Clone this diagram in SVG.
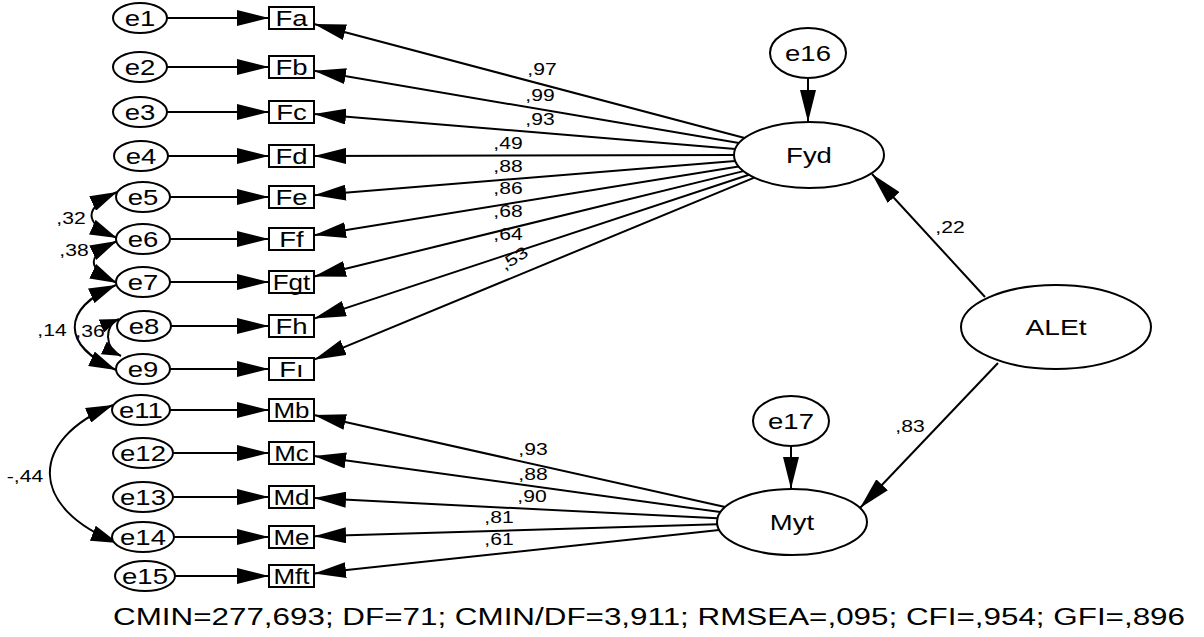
<svg xmlns="http://www.w3.org/2000/svg" width="1204" height="637" viewBox="0 0 1204 637">
<style>
.ln{stroke:#000;stroke-width:2;fill:none}
.nd{fill:#fff;stroke:#000;stroke-width:2}
text{font-family:"Liberation Sans",Arial,sans-serif;fill:#000}
.t{font-size:22px;text-anchor:middle}
.c{font-size:16.5px;text-anchor:middle}
.a{marker-end:url(#ah)}
.d{marker-start:url(#as);marker-end:url(#as)}
.s{marker-start:url(#ass);marker-end:url(#ass)}
</style>
<defs>
<marker id="ah" markerUnits="userSpaceOnUse" viewBox="0 0 32 16" markerWidth="32" markerHeight="16" refX="32" refY="8" orient="auto"><path d="M0,0 L32,8 L0,16 z" fill="#000"/></marker>
<marker id="as" markerUnits="userSpaceOnUse" viewBox="0 0 27 16" markerWidth="27" markerHeight="16" refX="27" refY="8" orient="auto-start-reverse"><path d="M0,0 L27,8 L0,16 z" fill="#000"/></marker>
<marker id="ass" markerUnits="userSpaceOnUse" viewBox="0 0 19 14" markerWidth="19" markerHeight="14" refX="19" refY="7" orient="auto-start-reverse"><path d="M0,0 L19,7 L0,14 z" fill="#000"/></marker>
</defs>
<rect width="1204" height="637" fill="#fff"/>
<g id="connectors">
<line class="ln a" x1="167" y1="18" x2="269" y2="18"/>
<line class="ln a" x1="167" y1="67" x2="269" y2="67"/>
<line class="ln a" x1="167" y1="112" x2="269" y2="112"/>
<line class="ln a" x1="168" y1="156" x2="269" y2="156"/>
<line class="ln a" x1="170" y1="197" x2="269" y2="197"/>
<line class="ln a" x1="170" y1="239" x2="269" y2="239"/>
<line class="ln a" x1="170" y1="282" x2="269" y2="282"/>
<line class="ln a" x1="171" y1="326" x2="269" y2="326"/>
<line class="ln a" x1="170" y1="369" x2="269" y2="369"/>
<line class="ln a" x1="170" y1="410" x2="269" y2="410"/>
<line class="ln a" x1="173" y1="453" x2="269" y2="453"/>
<line class="ln a" x1="173" y1="497" x2="269" y2="497"/>
<line class="ln a" x1="174" y1="537" x2="269" y2="537"/>
<line class="ln a" x1="175" y1="576" x2="269" y2="576"/>
<line class="ln a" x1="744.7" y1="138" x2="314" y2="24"/>
<line class="ln a" x1="739" y1="143.1" x2="314" y2="70.8"/>
<line class="ln a" x1="735.3" y1="148.9" x2="314" y2="113.9"/>
<line class="ln a" x1="734" y1="155.1" x2="314" y2="156"/>
<line class="ln a" x1="735.2" y1="161" x2="314" y2="195.2"/>
<line class="ln a" x1="738.6" y1="166.4" x2="314" y2="235.3"/>
<line class="ln a" x1="743.5" y1="171.1" x2="314" y2="276.5"/>
<line class="ln a" x1="749" y1="174.8" x2="314" y2="318.6"/>
<line class="ln a" x1="754.3" y1="177.6" x2="314" y2="359.7"/>
<line class="ln a" x1="725.2" y1="507" x2="314" y2="415"/>
<line class="ln a" x1="720.4" y1="512.1" x2="314" y2="456.1"/>
<line class="ln a" x1="717.5" y1="518.3" x2="314" y2="498.1"/>
<line class="ln a" x1="717.2" y1="524.2" x2="314" y2="536.3"/>
<line class="ln a" x1="719.2" y1="529.9" x2="314" y2="573.6"/>
<line class="ln a" x1="808" y1="78" x2="808" y2="122"/>
<line class="ln a" x1="791" y1="446" x2="791" y2="489"/>
<line class="ln a" x1="985" y1="297" x2="872" y2="174"/>
<line class="ln a" x1="998" y1="363" x2="860" y2="508"/>
<path class="ln d" d="M117,192 C83,208 83,223 117,238"/>
<path class="ln d" d="M117,241 C86,256 86,268 117,283"/>
<path class="ln d" d="M116,285 C61,309 61,345 116,370"/>
<path class="ln s" d="M119,319 C104,325 104,348 121,356"/>
<path class="ln d" d="M113,405 C28,440 28,508 118,543"/>
<text class="c" transform="translate(542,75) scale(1.28,1)">,97</text>
<text class="c" transform="translate(540,101) scale(1.28,1)">,99</text>
<text class="c" transform="translate(540,125) scale(1.28,1)">,93</text>
<text class="c" transform="translate(508,149) scale(1.28,1)">,49</text>
<text class="c" transform="translate(508,172) scale(1.28,1)">,88</text>
<text class="c" transform="translate(508,194) scale(1.28,1)">,86</text>
<text class="c" transform="translate(508,217) scale(1.28,1)">,68</text>
<text class="c" transform="translate(508,240) scale(1.28,1)">,64</text>
<text class="c" transform="translate(517,263) rotate(-32) scale(1.28,1)">,53</text>
<text class="c" transform="translate(533,455) scale(1.28,1)">,93</text>
<text class="c" transform="translate(533,480) scale(1.28,1)">,88</text>
<text class="c" transform="translate(532,502) scale(1.28,1)">,90</text>
<text class="c" transform="translate(499,523) scale(1.28,1)">,81</text>
<text class="c" transform="translate(499,545) scale(1.28,1)">,61</text>
<text class="c" transform="translate(950,233) scale(1.28,1)">,22</text>
<text class="c" transform="translate(910,432) scale(1.28,1)">,83</text>
<text class="c" transform="translate(71,224) scale(1.28,1)">,32</text>
<text class="c" transform="translate(74,256) scale(1.28,1)">,38</text>
<text class="c" transform="translate(52,336) scale(1.28,1)">,14</text>
<text class="c" transform="translate(90,337) scale(1.28,1)">,36</text>
<text class="c" transform="translate(25,482) scale(1.28,1)">-,44</text>
</g>
<g id="e1"><ellipse class="nd" cx="140" cy="18" rx="27" ry="15"/><text class="t" transform="translate(140,26) scale(1.25,1)">e1</text></g>
<g id="e2"><ellipse class="nd" cx="140" cy="67" rx="27" ry="15"/><text class="t" transform="translate(140,75) scale(1.25,1)">e2</text></g>
<g id="e3"><ellipse class="nd" cx="140" cy="112" rx="27" ry="15"/><text class="t" transform="translate(140,120) scale(1.25,1)">e3</text></g>
<g id="e4"><ellipse class="nd" cx="141" cy="156" rx="27" ry="15"/><text class="t" transform="translate(141,164) scale(1.25,1)">e4</text></g>
<g id="e5"><ellipse class="nd" cx="143" cy="197" rx="27" ry="15"/><text class="t" transform="translate(143,205) scale(1.25,1)">e5</text></g>
<g id="e6"><ellipse class="nd" cx="143" cy="239" rx="27" ry="15"/><text class="t" transform="translate(143,247) scale(1.25,1)">e6</text></g>
<g id="e7"><ellipse class="nd" cx="143" cy="282" rx="27" ry="15"/><text class="t" transform="translate(143,290) scale(1.25,1)">e7</text></g>
<g id="e8"><ellipse class="nd" cx="144" cy="326" rx="27" ry="15"/><text class="t" transform="translate(144,334) scale(1.25,1)">e8</text></g>
<g id="e9"><ellipse class="nd" cx="143" cy="369" rx="27" ry="15"/><text class="t" transform="translate(143,377) scale(1.25,1)">e9</text></g>
<g id="e11"><ellipse class="nd" cx="141" cy="410" rx="29" ry="15"/><text class="t" transform="translate(141,418) scale(1.25,1)">e11</text></g>
<g id="e12"><ellipse class="nd" cx="143" cy="453" rx="30" ry="15"/><text class="t" transform="translate(143,461) scale(1.25,1)">e12</text></g>
<g id="e13"><ellipse class="nd" cx="143" cy="497" rx="30" ry="15"/><text class="t" transform="translate(143,505) scale(1.25,1)">e13</text></g>
<g id="e14"><ellipse class="nd" cx="143" cy="537" rx="31" ry="15"/><text class="t" transform="translate(143,545) scale(1.25,1)">e14</text></g>
<g id="e15"><ellipse class="nd" cx="145" cy="576" rx="30" ry="15"/><text class="t" transform="translate(145,584) scale(1.25,1)">e15</text></g>
<g id="Fa"><rect class="nd" x="269" y="7" width="45" height="22"/><text class="t" transform="translate(291.5,26) scale(1.25,1)">Fa</text></g>
<g id="Fb"><rect class="nd" x="269" y="56" width="45" height="22"/><text class="t" transform="translate(291.5,75) scale(1.25,1)">Fb</text></g>
<g id="Fc"><rect class="nd" x="269" y="101" width="45" height="22"/><text class="t" transform="translate(291.5,120) scale(1.25,1)">Fc</text></g>
<g id="Fd"><rect class="nd" x="269" y="145" width="45" height="22"/><text class="t" transform="translate(291.5,164) scale(1.25,1)">Fd</text></g>
<g id="Fe"><rect class="nd" x="269" y="186" width="45" height="22"/><text class="t" transform="translate(291.5,205) scale(1.25,1)">Fe</text></g>
<g id="Ff"><rect class="nd" x="269" y="228" width="45" height="22"/><text class="t" transform="translate(291.5,247) scale(1.25,1)">Ff</text></g>
<g id="Fgt"><rect class="nd" x="269" y="271" width="45" height="22"/><text class="t" transform="translate(291.5,290) scale(1.18,1)">Fgt</text></g>
<g id="Fh"><rect class="nd" x="269" y="315" width="45" height="22"/><text class="t" transform="translate(291.5,334) scale(1.25,1)">Fh</text></g>
<g id="Fi"><rect class="nd" x="269" y="358" width="45" height="22"/><text class="t" transform="translate(291.5,377) scale(1.25,1)">Fı</text></g>
<g id="Mb"><rect class="nd" x="269" y="399" width="45" height="22"/><text class="t" transform="translate(291.5,418) scale(1.18,1)">Mb</text></g>
<g id="Mc"><rect class="nd" x="269" y="442" width="45" height="22"/><text class="t" transform="translate(291.5,461) scale(1.18,1)">Mc</text></g>
<g id="Md"><rect class="nd" x="269" y="486" width="45" height="22"/><text class="t" transform="translate(291.5,505) scale(1.18,1)">Md</text></g>
<g id="Me"><rect class="nd" x="269" y="526" width="45" height="22"/><text class="t" transform="translate(291.5,545) scale(1.18,1)">Me</text></g>
<g id="Mft"><rect class="nd" x="269" y="565" width="45" height="22"/><text class="t" transform="translate(291.5,584) scale(1.18,1)">Mft</text></g>
<g id="e16"><ellipse class="nd" cx="808" cy="53" rx="38" ry="25"/><text class="t" transform="translate(808,61) scale(1.25,1)">e16</text></g>
<g id="Fyd"><ellipse class="nd" cx="809" cy="155" rx="75" ry="33"/><text class="t" transform="translate(809,163) scale(1.25,1)">Fyd</text></g>
<g id="ALEt"><ellipse class="nd" cx="1056" cy="327" rx="95" ry="42"/><text class="t" transform="translate(1056,335) scale(1.28,1)">ALEt</text></g>
<g id="e17"><ellipse class="nd" cx="791" cy="421" rx="38" ry="25"/><text class="t" transform="translate(791,429) scale(1.25,1)">e17</text></g>
<g id="Myt"><ellipse class="nd" cx="792" cy="522" rx="75" ry="33"/><text class="t" transform="translate(792,530) scale(1.25,1)">Myt</text></g>
<text x="113" y="625" font-size="23.5" textLength="1072" lengthAdjust="spacingAndGlyphs">CMIN=277,693; DF=71; CMIN/DF=3,911; RMSEA=,095; CFI=,954; GFI=,896</text>
</svg>
